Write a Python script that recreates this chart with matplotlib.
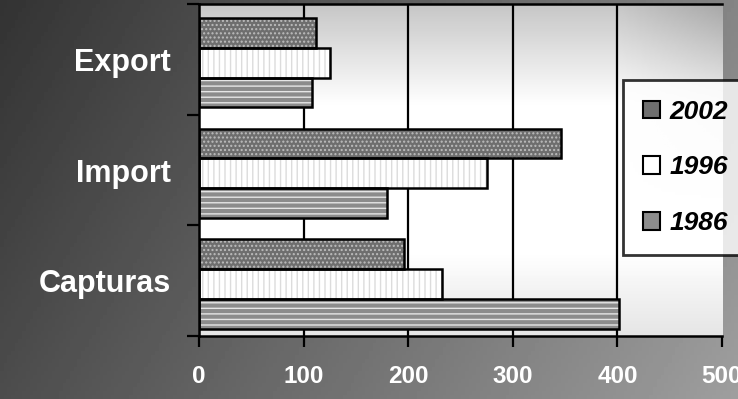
import numpy as np
import matplotlib
matplotlib.use("Agg")
import matplotlib.pyplot as plt
from matplotlib.patches import Patch

categories = ["Export", "Import", "Capturas"]
years = ["2002", "1996", "1986"]
v2002 = [112, 346, 196]
v1996 = [125, 275, 232]
v1986 = [108, 180, 402]
xticks = [0, 100, 200, 300, 400, 500]

plt.rcParams['hatch.linewidth'] = 1.0

W, H = 738, 399
fig = plt.figure(figsize=(W / 100, H / 100), dpi=100)

# figure background (dark dithered gradient)
bg = fig.add_axes([0, 0, 1, 1], zorder=-5)
xx, yy = np.meshgrid(np.linspace(0, 1, 200), np.linspace(0, 1, 100))
bgval = 0.20 + 0.32 * xx + 0.10 * yy
bg.imshow(bgval, cmap="gray", vmin=0, vmax=1, aspect="auto", extent=[0, 1, 1, 0])
bg.set_axis_off()

ax = fig.add_axes([199 / W, 63 / H, 523 / W, 332 / H])
ax.set_xlim(0, 500)
ax.set_ylim(2.5, -0.5)

# plot area gradient
px, py = np.meshgrid(np.linspace(0, 1, 200), np.linspace(0, 1, 100))
pval = 1.0 - 0.22 * np.clip(1 - py / 0.3, 0, 1) - 0.10 * np.clip((py - 0.75) / 0.25, 0, 1) \
       - 0.12 * np.clip((px - 0.8) / 0.2, 0, 1) * np.clip(1 - py / 0.6, 0, 1)
ax.imshow(pval, cmap="gray", vmin=0, vmax=1, aspect="auto",
          extent=[0, 500, 2.5, -0.5], zorder=0)

for xv in xticks[1:-1]:
    ax.axvline(xv, color="black", lw=1.6, zorder=1)

y = np.arange(len(categories)) + 0.03
h = 0.27
series = [
    (v2002, -h, "#6e6e6e", "....", "#bdbdbd"),
    (v1996, 0.0, "#ffffff", "|||", "#dcdcdc"),
    (v1986, h, "#8c8c8c", "---", "#e6e6e6"),
]
handles = []
for vals, off, fc, hatch, hc in series:
    ax.barh(y + off, vals, height=h, color=fc, hatch=hatch, edgecolor=hc, lw=0, zorder=2)
    ax.barh(y + off, vals, height=h, fill=False, edgecolor="black", lw=1.8, zorder=3)
for (vals, off, fc, hatch, hc), yr in zip(series, years):
    handles.append(Patch(facecolor=fc, edgecolor="black", lw=1.5, label=yr))

ax.set_xticks(xticks)
ax.set_xticklabels([str(t) for t in xticks], fontsize=17.5, fontweight="bold",
                   color="white", family="Liberation Sans")
ax.tick_params(axis="x", length=8, width=1.6, pad=13, color="black")

ax.set_yticks(np.arange(len(categories)))
ax.set_yticklabels(categories, fontsize=22, fontweight="bold",
                   color="white", family="Liberation Sans")
ax.tick_params(axis="y", which="major", length=0, pad=20)
ax.set_yticks([-0.5, 0.5, 1.5, 2.5], minor=True)
ax.tick_params(axis="y", which="minor", length=9, width=1.6, color="black")

for s in ["left", "bottom", "top"]:
    ax.spines[s].set_linewidth(1.8)
    ax.spines[s].set_color("black")
ax.spines["right"].set_visible(False)

leg = fig.legend(handles=handles, loc="upper left",
                 bbox_to_anchor=(623 / W, 1 - 80 / H),
                 prop={"family": "Liberation Sans", "weight": "bold",
                       "style": "italic", "size": 19},
                 frameon=True, fancybox=False, borderpad=0.75,
                 handlelength=0.65, handleheight=0.65, handletextpad=0.35,
                 labelspacing=1.2, borderaxespad=0)
leg.get_frame().set_edgecolor("black")
leg.get_frame().set_linewidth(2)
leg.get_frame().set_facecolor("white")

fig.savefig("out.png", dpi=100)
